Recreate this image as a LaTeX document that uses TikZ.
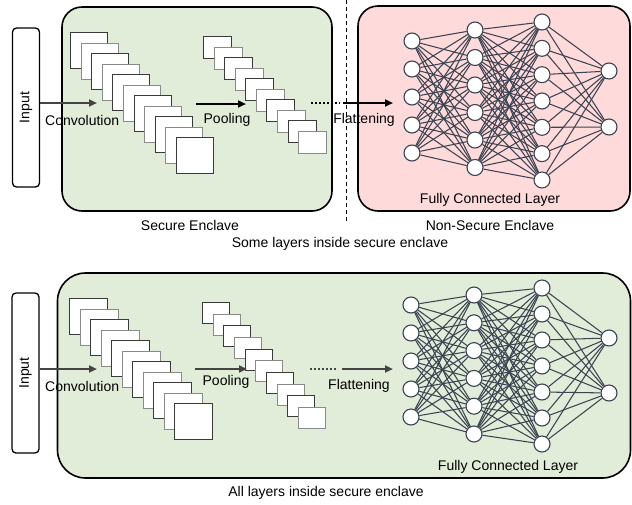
\documentclass[tikz,border=0pt]{standalone}
\usepackage{fontspec}
\setmainfont{Liberation Sans}
\usetikzlibrary{arrows.meta}
\definecolor{encgreen}{HTML}{E1EDD8}
\definecolor{encpink}{HTML}{FFDADA}
\definecolor{netline}{HTML}{3B4352}
\definecolor{arrowgray}{HTML}{444444}
\definecolor{mapdark}{HTML}{3A3A3A}
\definecolor{maplight}{HTML}{8A8A8A}

\begin{document}
\begin{tikzpicture}[x=1pt,y=-1pt,
  lbl/.style={font=\fontsize{14}{16}\selectfont, inner sep=0pt},
  enclave/.style={draw=black, line width=1.6pt, rounded corners=20pt, inner sep=0pt},
  inputbox/.style={draw=black, line width=1.3pt, fill=white, rounded corners=4pt,
    minimum width=27pt, minimum height=159pt, inner sep=0pt},
  fmap/.style={fill=white, line width=0.9pt, inner sep=0pt, anchor=north west},
  neuron/.style={circle, draw=netline, fill=white, line width=1.1pt,
    minimum size=16pt, inner sep=0pt},
  link/.style={draw=netline, line width=1.05pt},
  flow/.style={line width=2pt, -{Triangle[length=8pt,width=7pt]}},
  grayflow/.style={line width=2pt, draw=arrowgray, -{Triangle[length=8pt,width=7pt,fill=arrowgray]}},
  dots/.style={line width=1.5pt, dash pattern=on 1.5pt off 2.5pt},
]
\useasboundingbox (0,0) rectangle (632,504);

% ================= upper panel: partial enclave =================
\node[enclave, fill=encgreen, minimum width=270pt, minimum height=204pt] (secA) at (197,109) {};
\node[enclave, fill=encpink, minimum width=272pt, minimum height=205pt] (nsecA) at (494,108.5) {};
\node[inputbox] (inA) at (26,107.5) {};
\node[lbl, rotate=90] (inAtxt) at (inA) {Input};

% trust boundary
\coordinate (bndTop) at (346,0);
\coordinate (bndBot) at (346,222);
\draw[line width=1pt, dash pattern=on 4pt off 3pt] (bndTop) -- (bndBot);

% convolution feature maps
\foreach \k in {0,...,10} {
  \pgfmathsetmacro{\mc}{isodd(\k) ? "maplight" : "mapdark"}
  \node[fmap, draw=\mc, minimum width=37pt, minimum height=36pt]
    (cA\k) at ({70+10.6*\k},{32+10.5*\k}) {};
}
% pooled maps
\foreach \k in {0,...,9} {
  \pgfmathsetmacro{\mc}{isodd(\k) ? "maplight" : "mapdark"}
  \node[fmap, draw=\mc, minimum width=28pt, minimum height=22pt]
    (pA\k) at ({203+10.57*\k},{36+10.55*\k}) {};
}

% fully connected network
\foreach \i in {1,...,5} \node[neuron] (aA\i) at (412,{41+28*(\i-1)}) {};
\foreach \i in {1,...,6} \node[neuron] (bA\i) at (475,{30+27.5*(\i-1)}) {};
\foreach \i in {1,...,7} \node[neuron] (cN\i) at (542,{22+26.33*(\i-1)}) {};
\foreach \i in {1,...,2} \node[neuron] (dA\i) at (609,{71+56*(\i-1)}) {};
\foreach \i in {1,...,5} \foreach \j in {1,...,6} \draw[link] (aA\i) -- (bA\j);
\foreach \i in {1,...,6} \foreach \j in {1,...,7} \draw[link] (bA\i) -- (cN\j);
\foreach \i in {1,...,7} \foreach \j in {1,...,2} \draw[link] (cN\i) -- (dA\j);

% data flow
\coordinate (convA) at (97,103);
\coordinate (poolAs) at (196,104);
\coordinate (poolAe) at (246,104);
\coordinate (dotAs) at (311,103);
\coordinate (dotAe) at (340,103);
\coordinate (flatAs) at (343,103);
\coordinate (flatAe) at (393,103);
\draw[grayflow] (inA.east |- convA) -- (convA);
\draw[flow] (poolAs) -- (poolAe);
\draw[dots] (dotAs) -- (dotAe);
\draw[flow] (flatAs) -- (flatAe);

\node[lbl, anchor=west] (convAtxt) at (45,120) {Convolution};
\node[lbl] (poolAtxt) at (227,120) {Pooling};
\node[lbl] (flatAtxt) at (364,120) {Flattening};
\node[lbl] (fcAtxt) at (490,200) {Fully Connected Layer};
\node[lbl] (secAtxt) at (190,225) {Secure Enclave};
\node[lbl] (nsecAtxt) at (490,225) {Non-Secure Enclave};
\node[lbl] (capA) at (340,244) {Some layers inside secure enclave};

% ================= lower panel: full enclave =================
\node[enclave, fill=encgreen, rounded corners=28pt, minimum width=573pt, minimum height=205pt] (secB) at (344,375.5) {};
\node[inputbox, minimum height=160pt] (inB) at (25.5,373) {};
\node[lbl, rotate=90] (inBtxt) at (inB) {Input};

\foreach \k in {0,...,10} {
  \pgfmathsetmacro{\mc}{isodd(\k) ? "maplight" : "mapdark"}
  \node[fmap, draw=\mc, minimum width=38pt, minimum height=36pt]
    (cB\k) at ({69+10.5*\k},{298+10.5*\k}) {};
}
\foreach \k in {0,...,9} {
  \pgfmathsetmacro{\mc}{isodd(\k) ? "maplight" : "mapdark"}
  \node[fmap, draw=\mc, minimum width=27pt, minimum height=21pt]
    (pB\k) at ({202+10.67*\k},{302+11.67*\k}) {};
}

\foreach \i in {1,...,5} \node[neuron] (aB\i) at (411,{305+28*(\i-1)}) {};
\foreach \i in {1,...,6} \node[neuron] (bB\i) at (474,{295+27.8*(\i-1)}) {};
\foreach \i in {1,...,7} \node[neuron] (cB\i) at (542,{288+26*(\i-1)}) {};
\foreach \i in {1,...,2} \node[neuron] (dB\i) at (609,{338+55*(\i-1)}) {};
\foreach \i in {1,...,5} \foreach \j in {1,...,6} \draw[link] (aB\i) -- (bB\j);
\foreach \i in {1,...,6} \foreach \j in {1,...,7} \draw[link] (bB\i) -- (cB\j);
\foreach \i in {1,...,7} \foreach \j in {1,...,2} \draw[link] (cB\i) -- (dB\j);

\coordinate (convB) at (97,369);
\coordinate (poolBs) at (195,369);
\coordinate (poolBe) at (247,369);
\coordinate (dotBs) at (310,369);
\coordinate (dotBe) at (337,369);
\coordinate (flatBs) at (342,369);
\coordinate (flatBe) at (393,369);
\draw[grayflow] (inB.east |- convB) -- (convB);
\draw[grayflow] (poolBs) -- (poolBe);
\draw[grayflow] (flatBs) -- (flatBe);
\draw[dots, draw=arrowgray] (dotBs) -- (dotBe);

\node[lbl, anchor=west] (convBtxt) at (45,386) {Convolution};
\node[lbl] (poolBtxt) at (226,382) {Pooling};
\node[lbl, anchor=west] (flatBtxt) at (328,386) {Flattening};
\node[lbl] (fcBtxt) at (508,467) {Fully Connected Layer};
\node[lbl] (capB) at (326,493) {All layers inside secure enclave};
\end{tikzpicture}
\end{document}
